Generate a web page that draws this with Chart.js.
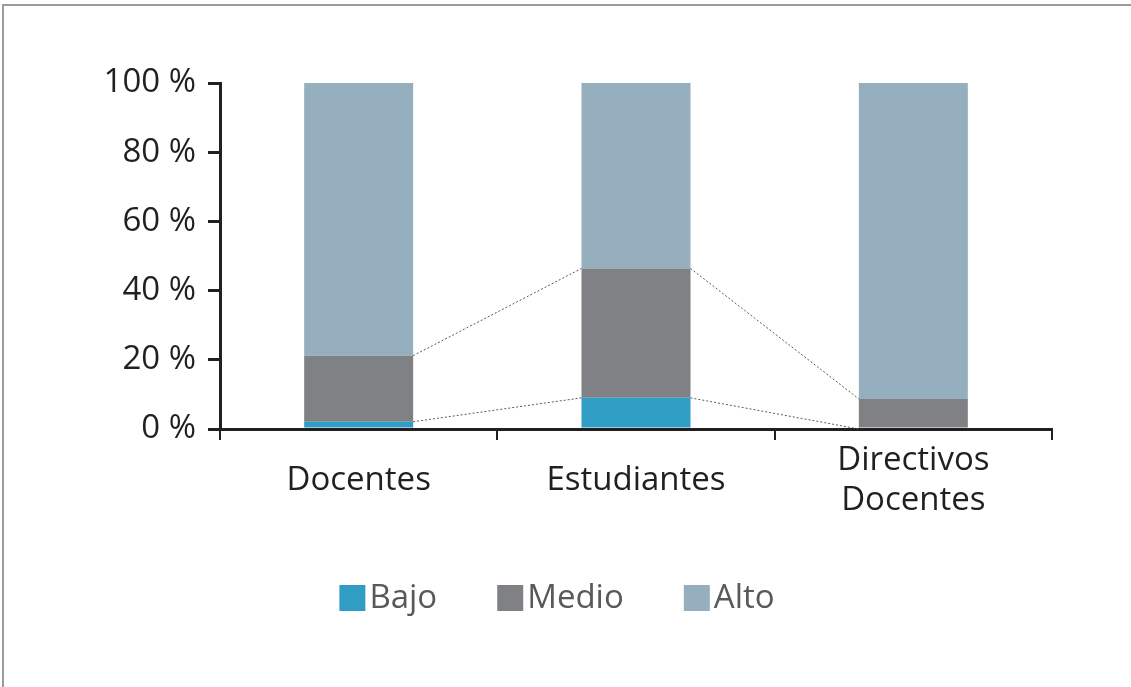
<!DOCTYPE html>
<html>
<head>
<meta charset="utf-8">
<script src="https://cdn.jsdelivr.net/npm/chart.js@4.4.1/dist/chart.umd.min.js"></script>
<style>
    body { margin: 0; background: #fff; }
    .wrap { position: relative; width: 1131px; height: 687px; overflow: hidden; }
    .frame {
        position: absolute; left: 2px; top: 4px; right: -10px; bottom: -10px;
        border-top: 2px solid #9b9b9b; border-left: 2px solid #9b9b9b;
    }
    canvas { position: absolute; left: 0; top: 0; }
</style>
</head>
<body>
<div class="wrap">
    <div class="frame"></div>
    <canvas id="chart" width="1131" height="687"></canvas>
</div>
<script>
const categories = ["Docentes", "Estudiantes", ["Directivos", "Docentes"]];
const bajo = [2.1, 9, 0];
const medio = [19.1, 37.4, 8.7];
const alto = [78.8, 53.6, 91.3];
const yTicks = [0, 20, 40, 60, 80, 100];

const FONT = "'Open Sans', 'DejaVu Sans', sans-serif";
const textDark = "#231f20";

// dotted lines joining the tops of each stacked segment
const seriesLines = {
    id: "seriesLines",
    afterDatasetsDraw(chart) {
        const ctx = chart.ctx;
        ctx.save();
        ctx.strokeStyle = "#58595b";
        ctx.lineWidth = 1;
        ctx.setLineDash([2, 2]);
        for (let d = 0; d < chart.data.datasets.length - 1; d++) {
            const bars = chart.getDatasetMeta(d).data;
            for (let i = 0; i < bars.length - 1; i++) {
                const a = bars[i], b = bars[i + 1];
                ctx.beginPath();
                ctx.moveTo(a.x + a.width / 2, a.y);
                ctx.lineTo(b.x - b.width / 2, b.y);
                ctx.stroke();
            }
        }
        ctx.restore();
    },
};

// legend with tight box-to-text gap
const customLegend = {
    id: "customLegend",
    afterDraw(chart) {
        const ctx = chart.ctx;
        const box = 26, gap = 4, spacing = 60, cy = 598;
        ctx.save();
        ctx.font = "33px " + FONT;
        ctx.textBaseline = "middle";
        const items = chart.data.datasets.map((ds) => ({
            label: ds.label,
            color: ds.backgroundColor,
            w: box + gap + ctx.measureText(ds.label).width,
        }));
        const total = items.reduce((s, it) => s + it.w, 0) + spacing * (items.length - 1);
        let x = 557 - total / 2;
        items.forEach((it) => {
            ctx.fillStyle = it.color;
            ctx.fillRect(x, cy - box / 2, box, box);
            ctx.fillStyle = "#58595b";
            ctx.fillText(it.label, x + box + gap, cy + 1);
            x += it.w + spacing;
        });
        ctx.restore();
    },
};

const ctx = document.getElementById("chart").getContext("2d");
new Chart(ctx, {
    type: "bar",
    data: {
        labels: categories,
        datasets: [
            { label: "Bajo", data: bajo, backgroundColor: "#309ec4" },
            { label: "Medio", data: medio, backgroundColor: "#808184" },
            { label: "Alto", data: alto, backgroundColor: "#95afbe" },
        ],
    },
    options: {
        responsive: false,
        animation: false,
        layout: { padding: { top: 83, right: 79, left: 0, bottom: 0 } },
        datasets: {
            bar: { barPercentage: 1, categoryPercentage: 0.393, borderWidth: 0 },
        },
        plugins: {
            legend: { display: false },
            tooltip: { enabled: false },
        },
        scales: {
            x: {
                stacked: true,
                afterFit(scale) { scale.height = 258; },
                border: { display: true, color: textDark, width: 3 },
                grid: {
                    offset: true,
                    drawOnChartArea: false,
                    drawTicks: true,
                    tickLength: 11,
                    color: textDark,
                    lineWidth: 2,
                },
                ticks: {
                    color: textDark,
                    font: { family: FONT, size: 33 },
                    padding: 21,
                    crossAlign: "center",
                    maxRotation: 0,
                    autoSkip: false,
                },
            },
            y: {
                stacked: true,
                min: 0,
                max: 100,
                afterFit(scale) { scale.width = 220; },
                afterBuildTicks(scale) {
                    scale.ticks = yTicks.map((v) => ({ value: v }));
                },
                border: { display: true, color: textDark, width: 3 },
                grid: {
                    drawOnChartArea: false,
                    drawTicks: true,
                    tickLength: 12,
                    color: textDark,
                    lineWidth: 3,
                },
                ticks: {
                    color: textDark,
                    font: { family: FONT, size: 33 },
                    padding: 12,
                    callback: (v) => v + " %",
                },
            },
        },
    },
    plugins: [seriesLines, customLegend],
});
</script>
</body>
</html>
